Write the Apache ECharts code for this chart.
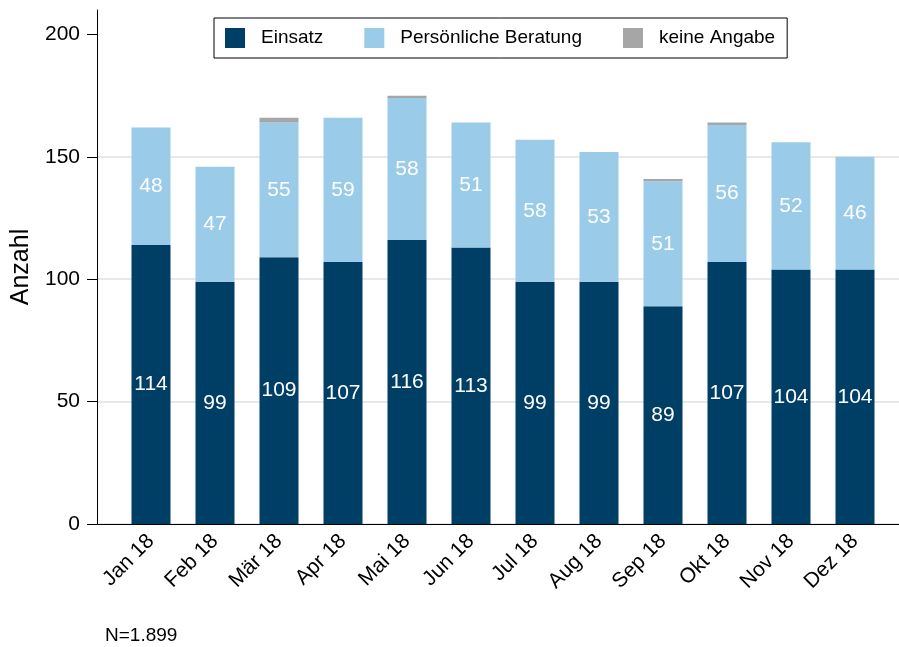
<!DOCTYPE html>
<html>
<head>
<meta charset="utf-8">
<script src="https://cdn.jsdelivr.net/npm/echarts@6/dist/echarts.min.js"></script>
<style>
    html, body { margin: 0; padding: 0; background: #fff; }
    #chart_con { width: 899px; height: 647px; }
</style>
</head>
<body>
<div id="chart_con"></div>
<script>
var months = ['Jan 18', 'Feb 18', 'Mär 18', 'Apr 18', 'Mai 18', 'Jun 18', 'Jul 18', 'Aug 18', 'Sep 18', 'Okt 18', 'Nov 18', 'Dez 18'];
var einsatz = [114, 99, 109, 107, 116, 113, 99, 99, 89, 107, 104, 104];
var beratung = [48, 47, 55, 59, 58, 51, 58, 53, 51, 56, 52, 46];
var keineAngabe = [0, 0, 2, 0, 1, 0, 0, 0, 1, 1, 0, 0];
var yTicks = [0, 50, 100, 150, 200];
var noteText = 'N=1.899';

var fontFam = 'Liberation Sans, Arial, sans-serif';

var chart = echarts.init(document.getElementById('chart_con'), null, {renderer: 'canvas'});

function barLabel (show) {
    return {
        show: show,
        position: 'inside',
        color: '#fff',
        fontSize: 21,
        fontFamily: fontFam,
        formatter: function (p) {
            return p.value > 0 ? p.value : '';
        }
    };
}

var option = {
    animation: false,
    backgroundColor: '#fff',
    textStyle: {fontFamily: fontFam},
    legend: {
        left: 214,
        top: 18,
        orient: 'horizontal',
        borderColor: '#000',
        borderWidth: 1,
        padding: [10, 12, 10, 11],
        itemGap: 41,
        itemWidth: 20,
        itemHeight: 20,
        icon: 'rect',
        textStyle: {fontSize: 19, color: '#000', fontFamily: fontFam, padding: [0, 0, 0, 11]},
        data: ['Einsatz', 'Persönliche Beratung', 'keine Angabe']
    },
    grid: [
        {left: 119, right: 12, top: 10, bottom: 123},
        {left: 97, right: 0, top: 10, bottom: 123}
    ],
    xAxis: [
        {
            type: 'category',
            gridIndex: 0,
            data: months,
            axisLine: {show: false},
            axisTick: {show: false},
            axisLabel: {
                rotate: 45,
                margin: 14,
                fontSize: 21,
                color: '#000',
                fontFamily: fontFam,
                interval: 0
            }
        },
        {
            type: 'value',
            gridIndex: 1,
            min: 0,
            max: 1,
            axisLine: {show: true, lineStyle: {color: '#000', width: 1}},
            axisTick: {show: false},
            axisLabel: {show: false},
            splitLine: {show: false}
        }
    ],
    yAxis: [
        {
            type: 'value',
            gridIndex: 1,
            min: 0,
            max: 210,
            interval: 50,
            name: 'Anzahl',
            nameLocation: 'middle',
            nameGap: 62,
            nameTextStyle: {fontSize: 25, color: '#000', fontFamily: fontFam},
            axisLine: {show: true, lineStyle: {color: '#000', width: 1}},
            axisTick: {show: true, length: 10, lineStyle: {color: '#000'}, customValues: yTicks},
            axisLabel: {fontSize: 21, color: '#000', margin: 17, fontFamily: fontFam, customValues: yTicks},
            splitLine: {show: true, showMaxLine: false, lineStyle: {color: '#e8e8e8', width: 2}}
        },
        {
            type: 'value',
            gridIndex: 0,
            min: 0,
            max: 210,
            show: false,
            splitLine: {show: false}
        }
    ],
    graphic: [
        {
            type: 'text',
            left: 105,
            top: 626,
            style: {text: noteText, fontSize: 19, fill: '#000', fontFamily: fontFam}
        }
    ],
    series: [
        {
            name: 'Einsatz',
            type: 'bar',
            stack: 'total',
            xAxisIndex: 0,
            yAxisIndex: 1,
            barWidth: 39,
            data: einsatz,
            itemStyle: {color: '#003f65'},
            label: barLabel(true)
        },
        {
            name: 'Persönliche Beratung',
            type: 'bar',
            stack: 'total',
            xAxisIndex: 0,
            yAxisIndex: 1,
            barWidth: 39,
            data: beratung,
            itemStyle: {color: '#9acbe8'},
            label: barLabel(true)
        },
        {
            name: 'keine Angabe',
            type: 'bar',
            stack: 'total',
            xAxisIndex: 0,
            yAxisIndex: 1,
            barWidth: 39,
            data: keineAngabe,
            itemStyle: {color: '#a6a6a6'},
            label: barLabel(false)
        }
    ]
};

chart.setOption(option);
window.addEventListener('resize', function () {
    chart.resize();
});
</script>
</body>
</html>
